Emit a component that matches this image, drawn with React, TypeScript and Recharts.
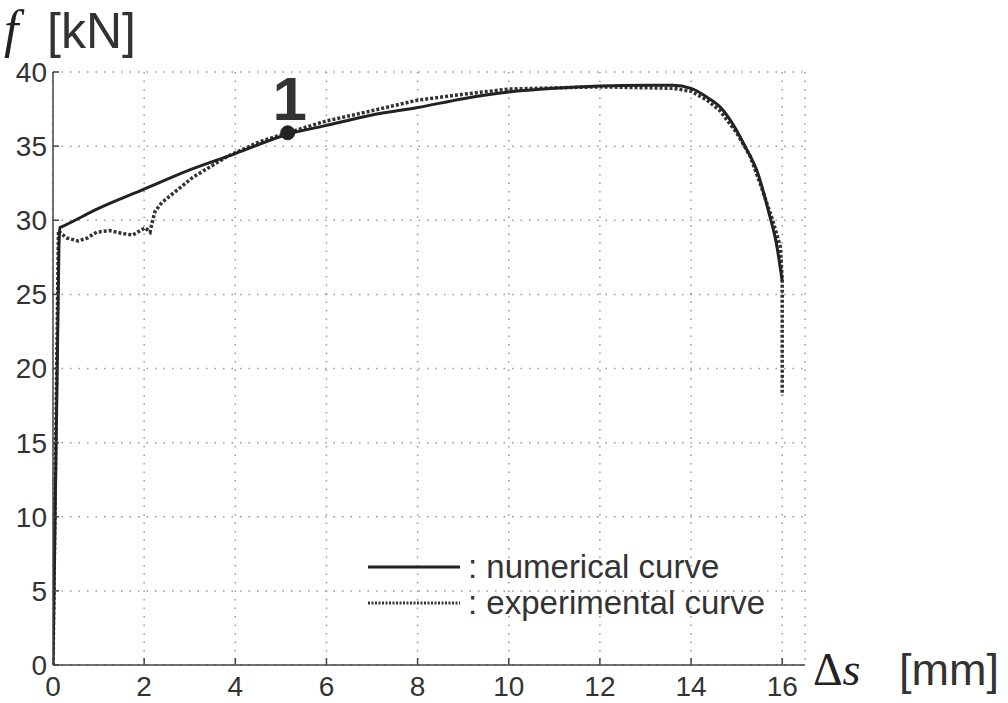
import {
  CartesianGrid,
  Line,
  LineChart,
  ReferenceDot,
  XAxis,
  YAxis,
} from "recharts";

// numerical curve (FE model)
const numericalX = [
  0, 0.13, 0.15, 0.2, 1, 2, 3, 4, 5.15, 6, 7, 8, 9, 10, 11, 12, 13, 13.6, 14,
  14.35, 14.65, 14.85, 15.2, 15.45, 15.7, 15.88, 16,
];
const numericalY = [
  0, 28.2, 29.5, 29.57, 30.8, 32.1, 33.4, 34.5, 35.8, 36.4, 37.1, 37.6, 38.2,
  38.65, 38.9, 39.05, 39.1, 39.1, 38.9, 38.3, 37.6, 36.8, 34.9, 33.3, 30.6,
  28.3, 25.9,
];

// experimental curve (test record)
const experimentalX = [
  0, 0.12, 0.18, 0.31, 0.55, 0.75, 0.96, 1.25, 1.54, 1.75, 1.91, 2.02, 2.13,
  2.17, 2.24, 2.39, 2.63, 3.07, 3.82, 4.54, 5.15, 6, 6.73, 8, 9, 10, 12, 13.6,
  14, 14.35, 14.63, 15, 15.3, 15.57, 15.79, 15.96, 16, 16,
];
const experimentalY = [
  0, 29.3, 29.1, 28.8, 28.6, 28.8, 29.2, 29.3, 29.1, 29.0, 29.3, 29.5, 29.2,
  29.8, 30.6, 31.2, 31.8, 32.9, 34.3, 35.3, 35.9, 36.7, 37.2, 38.1, 38.5, 38.85,
  39.0, 38.9, 38.7, 38.1, 37.4, 35.9, 34.3, 32.0, 30.0, 28.2, 26.0, 18.2,
];

const xTicks = [0, 2, 4, 6, 8, 10, 12, 14, 16];
const yTicks = [0, 5, 10, 15, 20, 25, 30, 35, 40];

const pointOne = { x: 5.15, y: 35.9, label: "1" };

const numericalData = numericalX.map((x, i) => ({ x, f: numericalY[i] }));
const experimentalData = experimentalX.map((x, i) => ({
  x,
  f: experimentalY[i],
}));

const sans = "Arial, Liberation Sans, sans-serif";
const serif = "Times New Roman, Liberation Serif, serif";

const tickStyle = { fill: "#333", fontSize: 28, style: { fontFamily: sans } };

const PointLabel = ({ viewBox }: any) => {
  if (!viewBox) return null;
  const cx = viewBox.x + viewBox.width / 2;
  return (
    <text
      x={cx + 2}
      y={viewBox.y - 6}
      textAnchor="middle"
      style={{ fontFamily: sans, fontWeight: "bold", fontSize: 62 }}
      fill="#333"
    >
      {pointOne.label}
    </text>
  );
};

export default function App() {
  return (
    <div
      style={{
        position: "absolute",
        left: 0,
        top: 0,
        width: 1008,
        height: 703,
        background: "#fff",
        fontFamily: sans,
      }}
    >
      <LineChart
        width={1008}
        height={703}
        margin={{ top: 72, right: 203, bottom: 0, left: 0 }}
      >
        <CartesianGrid
          stroke="#999"
          strokeDasharray="1.5 7"
          strokeWidth={1.5}
        />
        <XAxis
          type="number"
          dataKey="x"
          domain={[0, 16.5]}
          ticks={xTicks}
          allowDataOverflow
          height={38}
          stroke="#444"
          strokeWidth={1.5}
          tickSize={-7}
          tickMargin={18}
          tick={tickStyle}
          interval={0}
        />
        <YAxis
          type="number"
          domain={[0, 40]}
          ticks={yTicks}
          width={53}
          stroke="#444"
          strokeWidth={1.5}
          tickSize={-6}
          tickMargin={12}
          tick={tickStyle}
          interval={0}
        />
        <Line
          data={experimentalData}
          dataKey="f"
          type="linear"
          stroke="#333"
          strokeWidth={3.5}
          strokeDasharray="3 2"
          dot={false}
          isAnimationActive={false}
        />
        <Line
          data={numericalData}
          dataKey="f"
          type="monotone"
          stroke="#222"
          strokeWidth={3}
          dot={false}
          isAnimationActive={false}
        />
        <ReferenceDot
          x={pointOne.x}
          y={pointOne.y}
          r={7}
          fill="#222"
          stroke="#222"
          label={<PointLabel />}
        />
      </LineChart>

      <svg
        width={1008}
        height={703}
        style={{ position: "absolute", left: 0, top: 0, pointerEvents: "none" }}
      >
        {/* axis titles */}
        <text
          x={4}
          y={47}
          style={{ fontFamily: serif, fontStyle: "italic", fontSize: 52 }}
          fill="#222"
        >
          f
        </text>
        <text x={47} y={48} style={{ fontFamily: sans, fontSize: 50 }} fill="#333">
          [kN]
        </text>
        <text x={813} y={685} style={{ fontFamily: serif, fontSize: 46 }} fill="#222">
          Δ<tspan style={{ fontStyle: "italic" }}>s</tspan>
        </text>
        <text x={899} y={685} style={{ fontFamily: sans, fontSize: 45 }} fill="#333">
          [mm]
        </text>

        {/* legend */}
        <line x1={368} y1={567} x2={460} y2={567} stroke="#222" strokeWidth={3} />
        <text x={468} y={578} style={{ fontFamily: sans, fontSize: 33 }} fill="#333">
          : numerical curve
        </text>
        <line
          x1={368}
          y1={603}
          x2={460}
          y2={603}
          stroke="#333"
          strokeWidth={3}
          strokeDasharray="2 1.5"
        />
        <text x={468} y={614} style={{ fontFamily: sans, fontSize: 33 }} fill="#333">
          : experimental curve
        </text>
      </svg>
    </div>
  );
}
